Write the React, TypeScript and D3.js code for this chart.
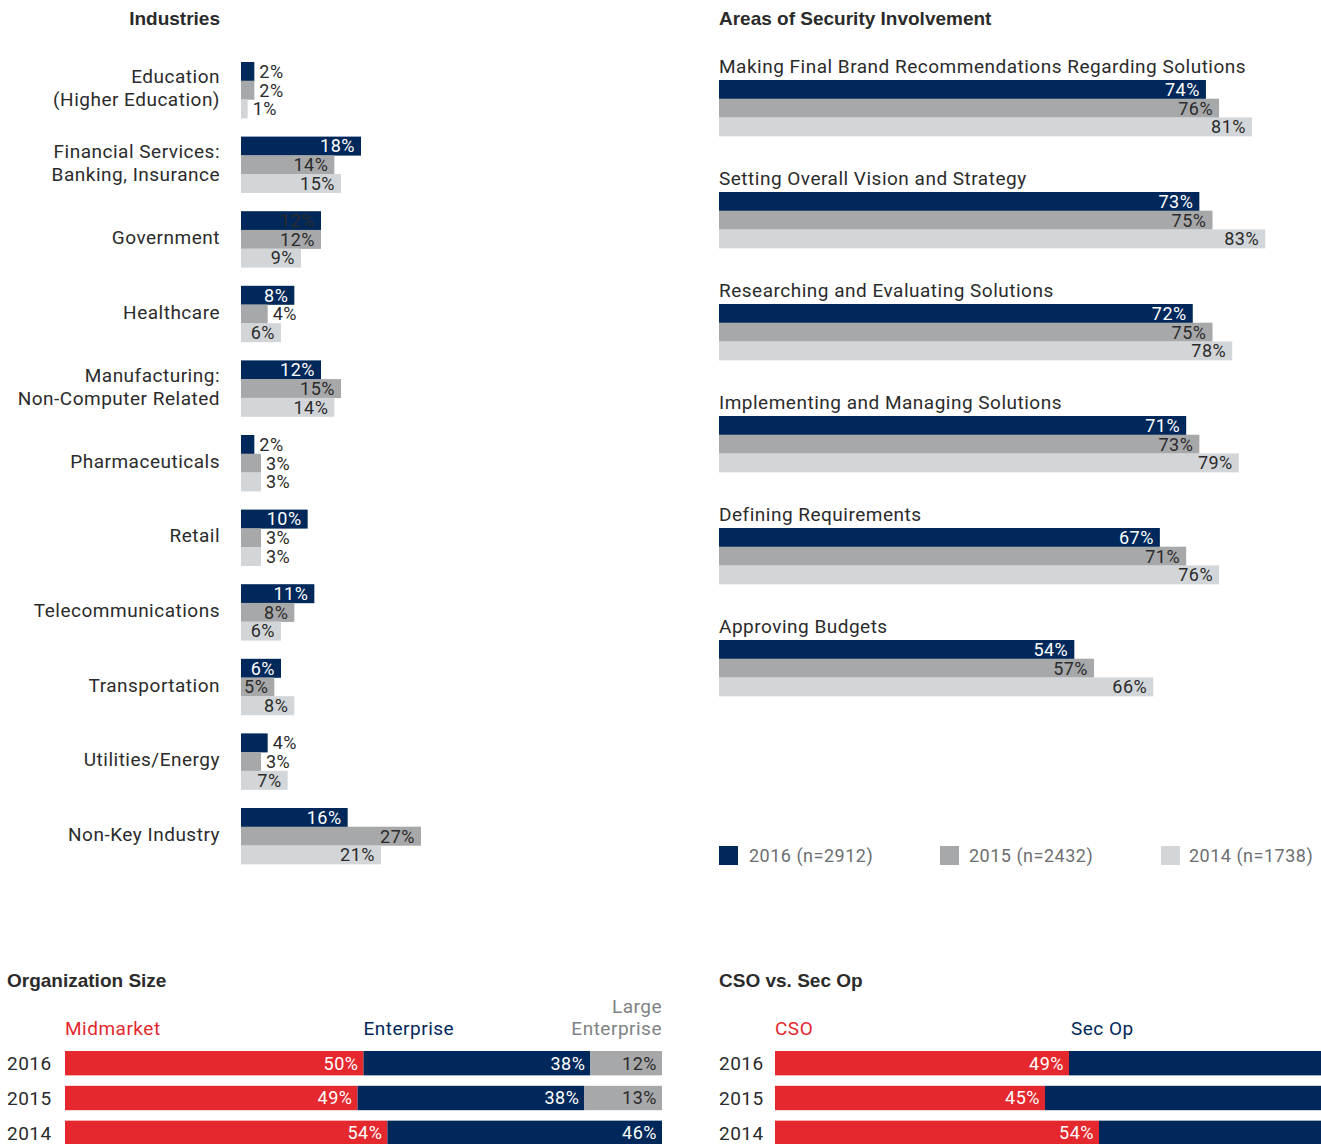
import React, { useEffect, useRef } from 'react';
import * as d3 from 'd3';

// Industries (2016 / 2015 / 2014)
const industries = [
  ['Education', '(Higher Education)'],
  ['Financial Services:', 'Banking, Insurance'],
  ['Government'],
  ['Healthcare'],
  ['Manufacturing:', 'Non-Computer Related'],
  ['Pharmaceuticals'],
  ['Retail'],
  ['Telecommunications'],
  ['Transportation'],
  ['Utilities/Energy'],
  ['Non-Key Industry'],
];
const ind2016 = [2, 18, 12, 8, 12, 2, 10, 11, 6, 4, 16];
const ind2015 = [2, 14, 12, 4, 15, 3, 3, 8, 5, 3, 27];
const ind2014 = [1, 15, 9, 6, 14, 3, 3, 6, 8, 7, 21];

// Areas of Security Involvement
const areas = [
  'Making Final Brand Recommendations Regarding Solutions',
  'Setting Overall Vision and Strategy',
  'Researching and Evaluating Solutions',
  'Implementing and Managing Solutions',
  'Defining Requirements',
  'Approving Budgets',
];
const area2016 = [74, 73, 72, 71, 67, 54];
const area2015 = [76, 75, 75, 73, 71, 57];
const area2014 = [81, 83, 78, 79, 76, 66];

const legendLabels = ['2016 (n=2912)', '2015 (n=2432)', '2014 (n=1738)'];

// Organization size
const years = ['2016', '2015', '2014'];
const midmarket = [50, 49, 54];
const enterprise = [38, 38, 46];
const largeEnterprise = [12, 13, 0];

// CSO vs Sec Op
const cso = [49, 45, 54];
const secOp = [51, 55, 46];

const NAVY = '#00285a';
const GREY = '#a7a8aa';
const LIGHT = '#d3d6d9';
const RED = '#e4282d';
const TEXT = '#2b2b2b';
const FONT = 'Roboto, sans-serif';
const BOLD = '"Liberation Sans", Arial, sans-serif';
const seriesColors = [NAVY, GREY, LIGHT];

export default function App() {
  const svgRef = useRef<SVGSVGElement>(null);

  useEffect(() => {
    if (!svgRef.current) return;
    const svg = d3.select(svgRef.current);
    svg.selectAll('*').remove();

    const title = (x: number, y: number, t: string, anchor = 'start') =>
      svg.append('text').attr('x', x).attr('y', y).attr('text-anchor', anchor)
        .attr('font-family', BOLD).attr('font-weight', 'bold').attr('font-size', 19)
        .attr('fill', TEXT).text(t);

    // bar value label, inside the bar end or just after it
    const valueLabel = (g: any, x1: number, yc: number, v: number, series: number, inside: boolean, dark = false) => {
      const fill = series === 0 && !dark ? '#ffffff' : TEXT;
      g.append('text')
        .attr('x', inside ? x1 - 6 : x1 + 5)
        .attr('y', yc)
        .attr('dy', '0.36em')
        .attr('text-anchor', inside ? 'end' : 'start')
        .attr('font-family', FONT).attr('font-size', 18)
        .attr('letter-spacing', '0.5')
        .attr('fill', inside ? fill : TEXT)
        .text(`${v}%`);
    };

    // ---------- Industries ----------
    title(220, 25, 'Industries', 'end');
    const indG = svg.append('g');
    const xInd = d3.scaleLinear().domain([0, 27]).range([241, 241 + 180]);
    const bh = 18.7;
    const indSeries = [ind2016, ind2015, ind2014];
    industries.forEach((lines, i) => {
      const y0 = 62 + 74.6 * i;
      indSeries.forEach((s, k) => {
        const v = s[i];
        const yy = y0 + k * bh;
        indG.append('rect').attr('x', xInd(0)).attr('y', yy).attr('width', xInd(v) - xInd(0)).attr('height', bh + 0.3).attr('fill', seriesColors[k]);
        valueLabel(indG, xInd(v), yy + bh / 2, v, k, v >= 5, lines[0] === 'Government');
      });
      const yc = y0 + bh * 1.5 - 2;
      lines.forEach((l, j) => {
        indG.append('text')
          .attr('x', 220)
          .attr('y', yc + (j - (lines.length - 1) / 2) * 23)
          .attr('dy', '0.36em')
          .attr('text-anchor', 'end')
          .attr('font-family', FONT).attr('font-size', 19).attr('letter-spacing', '0.5')
          .attr('fill', TEXT)
          .text(l);
      });
    });

    // ---------- Areas of Security Involvement ----------
    title(719, 25, 'Areas of Security Involvement');
    const arG = svg.append('g');
    const xAr = d3.scaleLinear().domain([0, 100]).range([719, 719 + 658]);
    const arSeries = [area2016, area2015, area2014];
    areas.forEach((a, i) => {
      const y0 = 80 + 112 * i;
      arG.append('text').attr('x', 719).attr('y', y0 - 7).attr('font-family', FONT).attr('font-size', 19)
        .attr('letter-spacing', '0.5').attr('fill', TEXT).text(a);
      arSeries.forEach((s, k) => {
        const v = s[i];
        const yy = y0 + k * bh;
        arG.append('rect').attr('x', xAr(0)).attr('y', yy).attr('width', xAr(v) - xAr(0)).attr('height', bh + 0.3).attr('fill', seriesColors[k]);
        valueLabel(arG, xAr(v), yy + bh / 2, v, k, true);
      });
    });

    // Legend
    const legend = svg.append('g').attr('transform', 'translate(719, 846)');
    legendLabels.forEach((l, k) => {
      legend.append('rect').attr('x', k * 221).attr('y', 0).attr('width', 19).attr('height', 19).attr('fill', seriesColors[k]);
      legend.append('text').attr('x', k * 220 + 30).attr('y', 10).attr('dy', '0.36em')
        .attr('font-family', FONT).attr('font-size', 18).attr('letter-spacing', '0.5').attr('fill', '#6d6e71').text(l);
    });

    // ---------- Stacked charts ----------
    const stacked = (left: number, x0: number, x1: number, titleText: string, keys: string[], values: number[][], colors: string[], labelled: boolean[]) => {
      title(left, 987, titleText);
      const g = svg.append('g');
      const rows = years.map((yr, i) => {
        const o: any = { year: yr };
        keys.forEach((k, j) => (o[k] = values[j][i]));
        return o;
      });
      const stack = d3.stack<any>().keys(keys)(rows);
      const x = d3.scaleLinear().domain([0, 100]).range([x0, x1]);
      const y = d3.scaleBand().domain(years).range([1051, 1145]).paddingInner(0.3).paddingOuter(0).align(0);
      stack.forEach((layer, j) => {
        layer.forEach((seg, i) => {
          const w = x(seg[1]) - x(seg[0]);
          if (w <= 0) return;
          const yy = y(years[i])!;
          g.append('rect').attr('x', x(seg[0])).attr('y', yy).attr('width', w).attr('height', y.bandwidth()).attr('fill', colors[j]);
          if (labelled[j]) {
            g.append('text').attr('x', x(seg[1]) - 5).attr('y', yy + y.bandwidth() / 2).attr('dy', '0.36em')
              .attr('text-anchor', 'end').attr('font-family', FONT).attr('font-size', 18).attr('letter-spacing', '0.5')
              .attr('fill', colors[j] === GREY ? TEXT : '#ffffff').text(`${seg[1] - seg[0]}%`);
          }
        });
      });
      years.forEach((yr) => {
        g.append('text').attr('x', left).attr('y', y(yr)! + y.bandwidth() / 2).attr('dy', '0.36em')
          .attr('font-family', FONT).attr('font-size', 19).attr('letter-spacing', '0.5').attr('fill', TEXT).text(yr);
      });
      return { g, x };
    };

    const hdr = (g: any, x: number, y: number, t: string, c: string, anchor = 'start') =>
      g.append('text').attr('x', x).attr('y', y).attr('text-anchor', anchor).attr('font-family', FONT)
        .attr('font-size', 19).attr('letter-spacing', '0.5').attr('fill', c).text(t);

    const org = stacked(7, 65, 662, 'Organization Size', ['Midmarket', 'Enterprise', 'Large Enterprise'],
      [midmarket, enterprise, largeEnterprise], [RED, NAVY, GREY], [true, true, true]);
    hdr(org.g, org.x(0), 1035, 'Midmarket', RED);
    hdr(org.g, org.x(midmarket[0]), 1035, 'Enterprise', NAVY);
    hdr(org.g, org.x(100), 1013, 'Large', '#808285', 'end');
    hdr(org.g, org.x(100), 1035, 'Enterprise', '#808285', 'end');

    const cs = stacked(719, 775, 1375, 'CSO vs. Sec Op', ['CSO', 'Sec Op'], [cso, secOp], [RED, NAVY], [true, false]);
    hdr(cs.g, cs.x(0), 1035, 'CSO', RED);
    hdr(cs.g, cs.x(cso[0]) + 2, 1035, 'Sec Op', NAVY);
  }, []);

  return (
    <svg
      ref={svgRef}
      width={1321}
      height={1144}
      style={{ position: 'absolute', left: 0, top: 0, background: '#ffffff' }}
    />
  );
}
